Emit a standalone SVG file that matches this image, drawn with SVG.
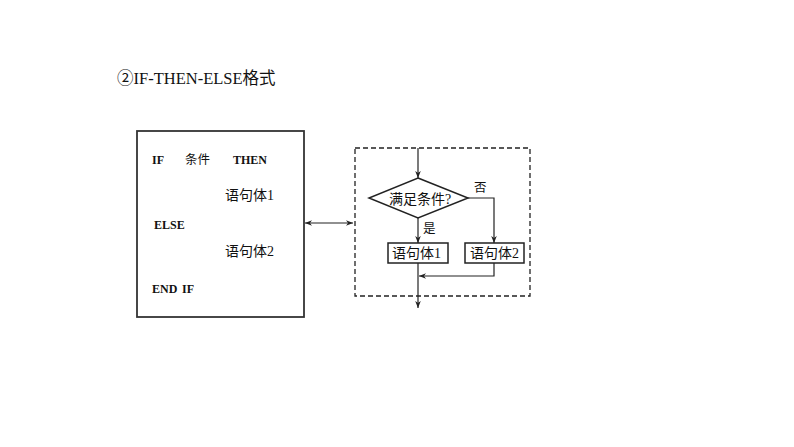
<svg xmlns="http://www.w3.org/2000/svg" width="794" height="447" viewBox="0 0 794 447">
<style>
.t{font-family:"Liberation Serif","Noto Sans CJK SC",serif;fill:#111}
.b{font-weight:bold;font-size:12px}
.c{font-size:14px}
.ln{stroke:#222;stroke-width:1.2;fill:none}
.box{stroke:#222;stroke-width:1.5;fill:#fff}
</style>
<defs>
<marker id="ah" viewBox="0 0 10 10" refX="10" refY="5" markerWidth="7" markerHeight="7" markerUnits="userSpaceOnUse" orient="auto-start-reverse">
<path d="M0,1 L10,5 L0,9 L3,5 Z" fill="#222"/>
</marker>
</defs>
<rect width="794" height="447" fill="#fff"/>
<text class="t" x="117" y="84" font-size="16.5">②IF-THEN-ELSE格式</text>

<g id="code">
<rect x="137" y="131" width="167" height="186" fill="#fff" stroke="#333" stroke-width="1.8"/>
<text class="t b" x="152" y="164">IF</text>
<text class="t" x="185" y="164" font-size="12.5">条件</text>
<text class="t b" x="233" y="164">THEN</text>
<text class="t c" x="225" y="200">语句体1</text>
<text class="t b" x="154" y="229">ELSE</text>
<text class="t c" x="225" y="256">语句体2</text>
<text class="t b" x="152" y="293">END</text>
<text class="t b" x="182" y="293">IF</text>
</g>

<g id="frame">
<rect x="355" y="148" width="175" height="148" fill="none" stroke="#222" stroke-width="1.3" stroke-dasharray="5,3"/>
</g>

<g id="decision">
<polygon class="box" points="418,178 468,198 418,218 369,198"/>
<text class="t c" x="389" y="204">满足条件?</text>
</g>
<g id="stmt1">
<rect class="box" x="388" y="243" width="60" height="20"/>
<text class="t c" x="392" y="258">语句体1</text>
</g>
<g id="stmt2">
<rect class="box" x="465" y="243" width="59" height="20"/>
<text class="t c" x="470" y="258">语句体2</text>
</g>

<g id="connectors">
<line class="ln" x1="305" y1="223" x2="353" y2="223" marker-start="url(#ah)" marker-end="url(#ah)"/>
<line class="ln" x1="418" y1="148" x2="418" y2="178" marker-end="url(#ah)"/>
<line class="ln" x1="418" y1="218" x2="418" y2="243" marker-end="url(#ah)"/>
<polyline class="ln" points="468,198 494,198 494,243" marker-end="url(#ah)"/>
<polyline class="ln" points="494,263 494,276 419,276" marker-end="url(#ah)"/>
<line class="ln" x1="418" y1="263" x2="418" y2="308" marker-end="url(#ah)"/>
<text class="t" x="474" y="192" font-size="12.5">否</text>
<text class="t" x="423" y="233" font-size="12.5">是</text>
</g>
</svg>
